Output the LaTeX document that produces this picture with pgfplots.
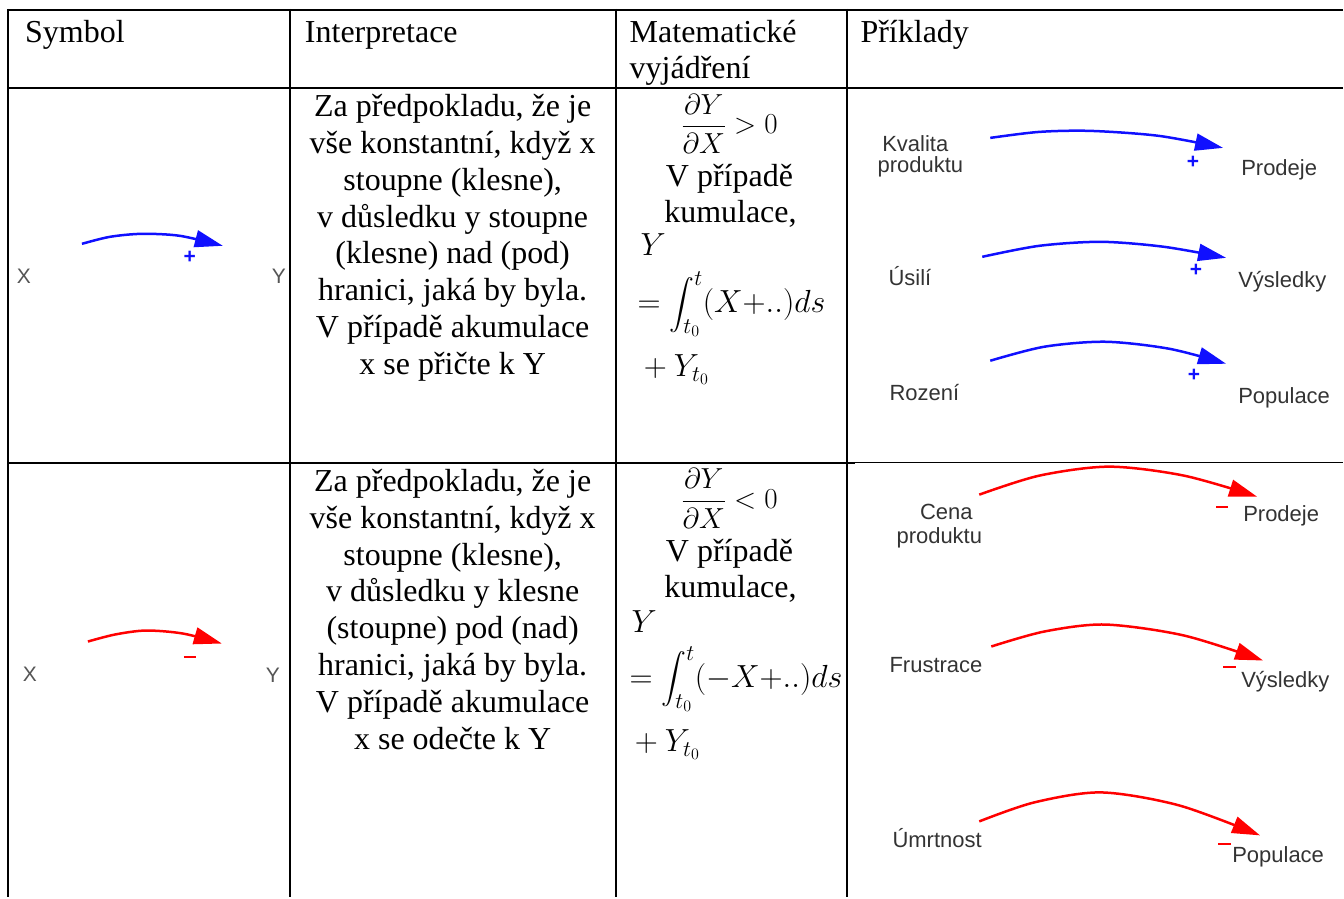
\RequirePackage{fix-cm}
\documentclass[border=0pt]{standalone}
\usepackage{amsmath}
\usepackage{fontspec}
\setmainfont{Liberation Serif}
\newfontfamily\labsans{Liberation Sans}
\usepackage{pgfplots}
\pgfplotsset{compat=1.18}
\usetikzlibrary{arrows.meta}
\definecolor{lab}{HTML}{333333}
\definecolor{xy}{HTML}{555555}
\definecolor{arrblue}{HTML}{1010FF}
\definecolor{arrred}{HTML}{FF0000}
\begin{document}
\begin{tikzpicture}
\tikzset{
  ser/.style={font=\fontsize{32}{36.8}\selectfont, inner sep=0pt, anchor=base},
  serw/.style={font=\fontsize{32}{36.8}\selectfont, inner sep=0pt, anchor=base west},
  lbl/.style={font=\labsans\fontsize{22}{24}\selectfont, text=lab, inner sep=0pt, anchor=base west},
  lblc/.style={font=\labsans\fontsize{22}{24}\selectfont, text=lab, inner sep=0pt, anchor=base},
  xyl/.style={font=\labsans\fontsize{21}{23}\selectfont, text=xy, inner sep=0pt, anchor=center},
  pl/.style={font=\labsans\bfseries\fontsize{21}{23}\selectfont, text=arrblue, inner sep=0pt, anchor=center},
  tip/.style={-{Triangle[length=28pt,width=17pt]}},
}
\begin{axis}[
  scale only axis, width=1344pt, height=898pt,
  xmin=0, xmax=1344, ymin=0, ymax=898, y dir=reverse,
  hide axis, clip=false,
]
% page extent
\addplot[draw=none] coordinates {(0,0) (1344,898)};
% table rules
\addplot[black, line width=2pt] coordinates {(8,10) (1344,10)};
\addplot[black, line width=2pt] coordinates {(8,88) (1344,88)};
\addplot[black, line width=2.2pt] coordinates {(8,463) (856,463)};
\addplot[black, line width=1.3pt] coordinates {(856,463) (1344,463)};
\addplot[black, line width=2pt] coordinates {(8,9) (8,898)};
\addplot[black, line width=2pt] coordinates {(290,9) (290,898)};
\addplot[black, line width=2pt] coordinates {(616,9) (616,898)};
\addplot[black, line width=2pt] coordinates {(848,9) (848,898)};

% header
\node[serw] at (axis cs:25,43) {Symbol};
\node[serw] at (axis cs:305,43) {Interpretace};
\node[serw] at (axis cs:630,43) {Matematické};
\node[serw] at (axis cs:630,79) {vyjádření};
\node[serw] at (axis cs:861,43) {Příklady};

% ---------- row 1 ----------
\addplot[arrblue, line width=2.5pt, smooth, tip] coordinates {(82,244) (110,237) (142,234) (180,236) (223,246)};
\node[pl] at (axis cs:190,258) {+};
\node[xyl] at (axis cs:24,276) {X};
\node[xyl] at (axis cs:279,276) {Y};

\node[ser] at (axis cs:453,117) {Za předpokladu, že je};
\node[ser] at (axis cs:453,154) {vše konstantní, když x};
\node[ser] at (axis cs:453,191) {stoupne (klesne),};
\node[ser] at (axis cs:453,228) {v důsledku y stoupne};
\node[ser] at (axis cs:453,264) {(klesne) nad (pod)};
\node[ser] at (axis cs:453,301) {hranici, jaká by byla.};
\node[ser] at (axis cs:453,338) {V případě akumulace};
\node[ser] at (axis cs:453,375) {x se přičte k Y};

\node[font=\fontsize{29}{33}\selectfont, inner sep=0pt, anchor=center] at (axis cs:730,124) {$\displaystyle\frac{\partial Y}{\partial X} > 0$};
\node[ser] at (axis cs:730,187) {V případě};
\node[ser] at (axis cs:731,223) {kumulace,};
\node[serw] at (axis cs:641,256) {$Y$};
\node[serw] at (axis cs:638,313) {$=\displaystyle\int_{t_0}^{t}(X{+}..)ds$};
\node[serw] at (axis cs:637,377) {${}+Y_{t_0}$};

\addplot[arrblue, line width=2.5pt, smooth, tip] coordinates {(991,138) (1040,132) (1092,131) (1160,136) (1224,148)};
\addplot[arrblue, line width=2.5pt, smooth, tip] coordinates {(983,257) (1040,246) (1102,242) (1165,247) (1227,258)};
\addplot[arrblue, line width=2.5pt, smooth, tip] coordinates {(991,361) (1045,347) (1106,342) (1170,349) (1227,364)};
\node[lblc] at (axis cs:916,152) {Kvalita};
\node[lblc] at (axis cs:921,173) {produktu};
\node[lbl] at (axis cs:1242,176) {Prodeje};
\node[pl] at (axis cs:1194,162) {+};
\node[lbl] at (axis cs:889,286) {Úsilí};
\node[lbl] at (axis cs:1239,288) {Výsledky};
\node[pl] at (axis cs:1197,271) {+};
\node[lbl] at (axis cs:890,401) {Rození};
\node[lbl] at (axis cs:1239,404) {Populace};
\node[pl] at (axis cs:1195,376) {+};

% ---------- row 2 ----------
\addplot[arrred, line width=2.5pt, smooth, tip] coordinates {(88,642) (115,635) (146,631) (183,634) (222,644)};
\addplot[arrred, line width=2pt] coordinates {(184,657) (196,657)};
\node[xyl] at (axis cs:30,675) {X};
\node[xyl] at (axis cs:273,676) {Y};

\node[ser] at (axis cs:453,492) {Za předpokladu, že je};
\node[ser] at (axis cs:453,529) {vše konstantní, když x};
\node[ser] at (axis cs:453,566) {stoupne (klesne),};
\node[ser] at (axis cs:453,602) {v důsledku y klesne};
\node[ser] at (axis cs:453,639) {(stoupne) pod (nad)};
\node[ser] at (axis cs:453,676) {hranici, jaká by byla.};
\node[ser] at (axis cs:453,713) {V případě akumulace};
\node[ser] at (axis cs:453,750) {x se odečte k Y};

\node[font=\fontsize{29}{33}\selectfont, inner sep=0pt, anchor=center] at (axis cs:730,499) {$\displaystyle\frac{\partial Y}{\partial X} < 0$};
\node[ser] at (axis cs:730,562) {V případě};
\node[ser] at (axis cs:731,598) {kumulace,};
\node[serw] at (axis cs:632,633) {$Y$};
\node[serw] at (axis cs:630,688) {$=\displaystyle\int_{t_0}^{t}(-X{+}..)ds$};
\node[serw] at (axis cs:628,752) {${}+Y_{t_0}$};

\addplot[arrred, line width=2.5pt, smooth, tip] coordinates {(980,495) (1040,476) (1110,467) (1185,476) (1258,497)};
\addplot[arrred, line width=2.5pt, smooth, tip] coordinates {(992,647) (1045,632) (1106,625) (1185,636) (1264,661)};
\addplot[arrred, line width=2.5pt, smooth, tip] coordinates {(980,822) (1035,803) (1102,793) (1180,806) (1261,836)};
\node[lblc] at (axis cs:947,520) {Cena};
\node[lblc] at (axis cs:940,544) {produktu};
\addplot[arrred, line width=2pt] coordinates {(1217,507) (1229,507)};
\node[lbl] at (axis cs:1244,522) {Prodeje};
\node[lbl] at (axis cs:890,673) {Frustrace};
\addplot[arrred, line width=2pt] coordinates {(1224,667) (1237,667)};
\node[lbl] at (axis cs:1242,688) {Výsledky};
\node[lbl] at (axis cs:893,848) {Úmrtnost};
\addplot[arrred, line width=2pt] coordinates {(1219,845) (1232,845)};
\node[lbl] at (axis cs:1233,863) {Populace};
\end{axis}
\end{tikzpicture}
\end{document}
